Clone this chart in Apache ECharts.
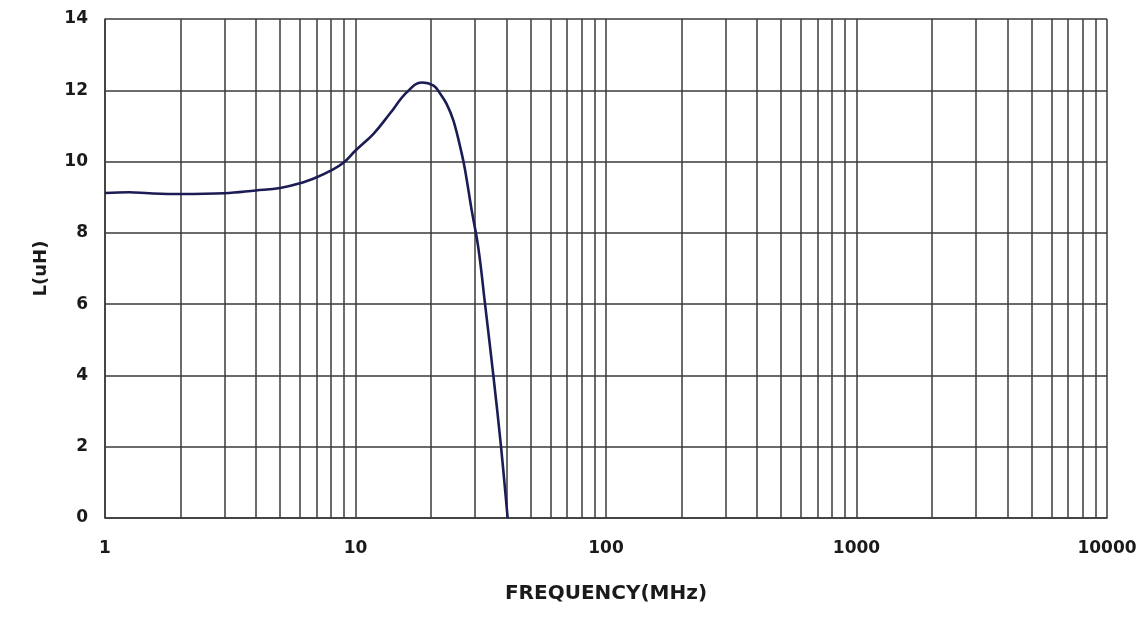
<!DOCTYPE html>
<html><head><meta charset="utf-8">
<script src="https://cdn.jsdelivr.net/npm/echarts@6/dist/echarts.min.js"></script>
<style>html,body{margin:0;padding:0;background:#fff}#c{width:1144px;height:644px}</style>
</head><body><div id="c"></div>
<script>
const freqMHz = [1, 1.25, 1.5, 2, 3, 4, 5, 6, 7, 8, 9, 10, 11.8, 13.7, 16.0, 18.4, 20.5, 21.8, 23.1, 24.6, 26.5, 27.4, 29.1, 30.9, 32.9, 35.5, 38.1, 40.5];
const inductance = [9.12, 9.14, 9.11, 9.09, 9.11, 9.19, 9.26, 9.39, 9.56, 9.75, 9.98, 10.31, 10.78, 11.34, 11.94, 12.22, 12.13, 11.9, 11.62, 11.15, 10.25, 9.75, 8.63, 7.6, 6.0, 4.0, 2.0, 0.0];
const minorGridFreqs = [2,3,4,5,6,7,8,9,20,30,40,50,60,70,80,90,200,300,400,500,600,700,800,900,2000,3000,4000,5000,6000,7000,8000,9000];

const gridColor = '#3a3a3a';
const labelFont = {fontFamily: 'DejaVu Sans, sans-serif', fontWeight: 'bold', fontSize: 17, color: '#1a1a1a'};

const chart = echarts.init(document.getElementById('c'));
chart.setOption({
  animation: false,
  backgroundColor: '#fff',
  grid: {left: 105, right: 37, top: 19, bottom: 126, containLabel: false},
  xAxis: {
    type: 'log', logBase: 10, min: 1, max: 10000,
    name: 'FREQUENCY(MHz)', nameLocation: 'middle', nameGap: 66,
    nameTextStyle: Object.assign({}, labelFont, {fontSize: 20}),
    axisLine: {show: true, lineStyle: {color: gridColor, width: 1.5}},
    axisTick: {show: false},
    axisLabel: Object.assign({}, labelFont, {margin: 22, formatter: v => String(v)}),
    splitLine: {show: true, lineStyle: {color: gridColor, width: 1.5}}
  },
  yAxis: {
    type: 'value', min: 0, max: 14, interval: 2,
    name: 'L(uH)', nameLocation: 'middle', nameGap: 55, nameRotate: 90,
    nameTextStyle: Object.assign({}, labelFont, {fontSize: 18}),
    axisLine: {show: true, lineStyle: {color: gridColor, width: 1.5}},
    axisTick: {show: false},
    axisLabel: Object.assign({}, labelFont, {margin: 17}),
    splitLine: {show: true, lineStyle: {color: gridColor, width: 1.5}}
  },
  series: [{
    type: 'line',
    data: freqMHz.map((f, i) => [f, inductance[i]]),
    smooth: 0.4,
    showSymbol: false,
    lineStyle: {color: '#1c1c55', width: 2.6},
    z: 5,
    markLine: {
      silent: true, symbol: 'none', label: {show: false},
      lineStyle: {color: gridColor, width: 1.5, type: 'solid'},
      data: minorGridFreqs.map(f => ({xAxis: f})),
      z: 1
    }
  }]
});
</script></body></html>
